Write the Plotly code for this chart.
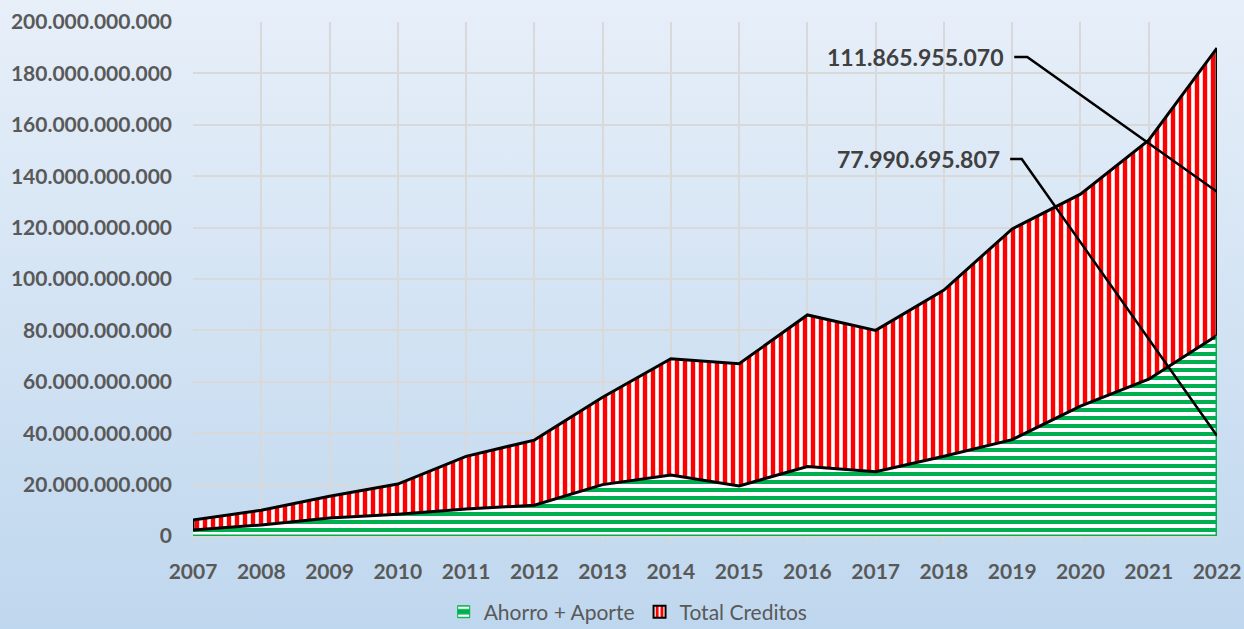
import base64
import numpy as np
import plotly.graph_objects as go

years = list(range(2007, 2023))
ahorro_aporte = [2.3e9, 4.3e9, 7.0e9, 8.5e9, 10.5e9, 12.0e9, 20.0e9, 23.7e9,
                 19.5e9, 27.0e9, 25.0e9, 31.0e9, 37.5e9, 50.5e9, 61.0e9, 77990695807]
total_creditos = [3.9e9, 5.7e9, 8.5e9, 11.7e9, 20.5e9, 25.3e9, 34.0e9, 45.3e9,
                  47.5e9, 59.0e9, 55.0e9, 64.7e9, 82.0e9, 82.5e9, 93.0e9, 111865955070]

GREEN = "#00b050"
RED = "#ff0000"
GRID = "#d9d9d9"
TXT = "#595959"

W, H = 1244, 629
ml, mr, mt, mb = 193, 27, 22, 93
pw, ph = W - ml - mr, H - mt - mb

g = np.array(ahorro_aporte, dtype=float)
top = g + np.array(total_creditos, dtype=float)

# gradient background as an inline svg image
svg = ('<svg xmlns="http://www.w3.org/2000/svg" width="10" height="10" viewBox="0 0 10 10" '
       'preserveAspectRatio="none"><defs><linearGradient id="g" x1="0" y1="0" x2="0" y2="1">'
       '<stop offset="0" stop-color="#e7eff9"/><stop offset="1" stop-color="#bfd7ee"/>'
       '</linearGradient></defs><rect width="10" height="10" fill="url(#g)"/></svg>')
bg_src = "data:image/svg+xml;base64," + base64.b64encode(svg.encode()).decode()

fig = go.Figure()

fig.add_trace(go.Scatter(
    x=years, y=g, mode="lines", fill="tozeroy", fillcolor="white",
    fillpattern=dict(shape="-", fgcolor=GREEN, bgcolor="white", fgopacity=1,
                     size=8, solidity=0.5),
    line=dict(color="black", width=3), showlegend=False, hoverinfo="skip"))
fig.add_trace(go.Scatter(
    x=years, y=top, mode="lines", fill="tonexty", fillcolor="white",
    fillpattern=dict(shape="|", fgcolor=RED, bgcolor="white", fgopacity=1,
                     size=8, solidity=0.55),
    line=dict(color="black", width=3), showlegend=False, hoverinfo="skip"))

# outline edges
fig.add_trace(go.Scatter(x=[years[0], years[-1], years[-1]], y=[0, 0, g[-1]], mode="lines",
                         line=dict(color=GREEN, width=3), showlegend=False, hoverinfo="skip",
                         cliponaxis=False))
for xe in (years[0], years[-1]):
    i = years.index(xe)
    fig.add_trace(go.Scatter(x=[xe, xe], y=[g[i], top[i]], mode="lines",
                             line=dict(color="black", width=3), showlegend=False,
                             hoverinfo="skip", cliponaxis=False))

# callout labels for the last year
callouts = [
    (total_creditos[-1], g[-1] + total_creditos[-1] / 2, 186.4e9, 2018.89, 2019.03, 2019.22),
    (ahorro_aporte[-1], g[-1] / 2, 146.7e9, 2018.85, 2018.97, 2019.14),
]
for val, yend, ylab, xtxt, x0, x1 in callouts:
    fig.add_trace(go.Scatter(x=[x0, x1, years[-1]], y=[ylab, ylab, yend], mode="lines",
                             line=dict(color="black", width=2.5), showlegend=False,
                             hoverinfo="skip", cliponaxis=False))
    fig.add_annotation(x=xtxt, y=ylab, text=f"{val:,.0f}".replace(",", "."), showarrow=False,
                       xanchor="right", yanchor="middle",
                       font=dict(family="Lato", size=23, color="#404040", weight="bold"))

# legend entries
fig.add_trace(go.Bar(x=[None], y=[None], name="Ahorro + Aporte",
                     marker=dict(color=GREEN, line=dict(color=GREEN, width=1),
                                 pattern=dict(shape="-", fgcolor="white", bgcolor=GREEN,
                                              fgopacity=1, size=14, solidity=0.3))))
fig.add_trace(go.Bar(x=[None], y=[None], name="Total Creditos",
                     marker=dict(color="white", line=dict(color="black", width=2),
                                 pattern=dict(shape="|", fgcolor=RED, bgcolor="white",
                                              fgopacity=1, size=6, solidity=0.6))))

fig.update_layout(
    width=W, height=H,
    margin=dict(l=ml, r=mr, t=mt, b=mb, autoexpand=False),
    paper_bgcolor="#d3e3f4", plot_bgcolor="rgba(0,0,0,0)",
    separators=",.",
    font=dict(family="Lato", color=TXT),
    images=[dict(source=bg_src, xref="paper", yref="paper", x=-ml / pw, y=1 + mt / ph,
                 sizex=W / pw, sizey=H / ph, xanchor="left", yanchor="top",
                 sizing="stretch", layer="below")],
    legend=dict(orientation="h", x=0.425, xanchor="center", y=-0.148, yanchor="middle",
                font=dict(family="Lato", size=21, color=TXT), itemwidth=30,
                traceorder="normal", bgcolor="rgba(0,0,0,0)"),
    showlegend=True,
)
fig.update_xaxes(range=[2007, 2022], dtick=1, type="linear", showgrid=True, gridcolor=GRID,
                 gridwidth=1.5, zeroline=False, showline=True, linecolor=GRID, linewidth=1.5,
                 ticks="outside", tickcolor=GRID, ticklen=6, ticklabelstandoff=10,
                 tickfont=dict(family="Lato", size=21, color=TXT, weight="bold"))
fig.update_yaxes(range=[0, 200e9], dtick=20e9, tickformat=",.0f", showgrid=True,
                 gridcolor=GRID, gridwidth=1.5, zeroline=False, showline=False, ticks="",
                 ticklabelstandoff=20,
                 tickfont=dict(family="Lato", size=21, color=TXT, weight="bold"))

fig.write_html("out.html", config={"displayModeBar": False},
               post_script="document.body.style.margin='0';")
